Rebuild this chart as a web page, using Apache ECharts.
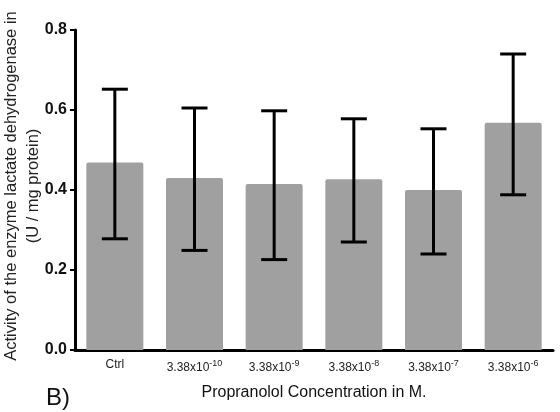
<!DOCTYPE html>
<html>
<head>
<meta charset="utf-8">
<script src="https://cdn.jsdelivr.net/npm/echarts@6/dist/echarts.min.js"></script>
<style>
  html, body { margin: 0; padding: 0; background: #fff; }
  #chart { width: 560px; height: 412px; }
</style>
</head>
<body>
<div id="chart"></div>
<script>
var categories = ['Ctrl', '-10', '-9', '-8', '-7', '-6'];
var means = [0.469, 0.430, 0.415, 0.427, 0.400, 0.568];
var errUpper = [0.652, 0.605, 0.598, 0.578, 0.553, 0.740];
var errLower = [0.278, 0.249, 0.226, 0.270, 0.240, 0.388];

var dom = document.getElementById('chart');
var myChart = echarts.init(dom);
var font = 'Liberation Sans, Arial, sans-serif';

var errData = [];
for (var i = 0; i < categories.length; i++) {
    errData.push([i, errLower[i], errUpper[i]]);
}

var option = {
    animation: false,
    textStyle: { fontFamily: font },
    grid: { left: 75, right: 7, top: 30, bottom: 62, containLabel: false, outerBoundsMode: 'none' },
    xAxis: {
        type: 'category',
        data: categories,
        axisLine: { lineStyle: { color: '#000', width: 3 } },
        axisTick: { alignWithLabel: true, length: 5, lineStyle: { color: '#000', width: 2 } },
        axisLabel: {
            interval: 0,
            hideOverlap: false,
            margin: 9,
            color: '#222',
            formatter: function (v) {
                if (v === 'Ctrl') return '{a|Ctrl}';
                return '{a|3.38x10}{s|' + v + '}';
            },
            rich: {
                a: { fontSize: 12, fontFamily: font, color: '#222' },
                s: { fontSize: 9, fontFamily: font, color: '#222', padding: [0, 0, 9, 0] }
            }
        },
        name: 'Propranolol Concentration in M.',
        nameLocation: 'middle',
        nameGap: 35,
        nameMoveOverlap: false,
        nameTextStyle: { fontSize: 16, color: '#111', fontFamily: font }
    },
    yAxis: {
        type: 'value',
        min: 0,
        max: 0.8,
        interval: 0.2,
        splitLine: { show: false },
        axisLine: { show: true, lineStyle: { color: '#000', width: 3 } },
        axisTick: { show: true, length: 5, lineStyle: { color: '#000', width: 2 } },
        axisLabel: {
            margin: 8,
            fontSize: 16,
            fontWeight: 'bold',
            color: '#111',
            formatter: function (v) { return v.toFixed(1); }
        },
        name: 'Activity of the enzyme lactate dehydrogenase in\n(U / mg protein)',
        nameLocation: 'middle',
        nameRotate: 90,
        nameGap: 31,
        nameMoveOverlap: false,
        nameTextStyle: { fontSize: 16.5, color: '#222', fontFamily: font, lineHeight: 22, padding: [0, 0, 0, 8] }
    },
    series: [
        {
            type: 'bar',
            data: means,
            barWidth: 57,
            itemStyle: { color: '#a0a0a0', borderRadius: [2, 2, 0, 0] },
            z: 2
        },
        {
            type: 'custom',
            data: errData,
            z: 3,
            renderItem: function (params, api) {
                var x = api.value(0);
                var lo = api.coord([x, api.value(1)]);
                var hi = api.coord([x, api.value(2)]);
                var half = 13;
                var style = { stroke: '#000', lineWidth: 3 };
                return {
                    type: 'group',
                    children: [
                        { type: 'line', shape: { x1: hi[0], y1: hi[1], x2: lo[0], y2: lo[1] }, style: style },
                        { type: 'line', shape: { x1: hi[0] - half, y1: hi[1], x2: hi[0] + half, y2: hi[1] }, style: style },
                        { type: 'line', shape: { x1: lo[0] - half, y1: lo[1], x2: lo[0] + half, y2: lo[1] }, style: style }
                    ]
                };
            }
        }
    ],
    graphic: [
        {
            type: 'text',
            left: 46,
            top: 386,
            style: { text: 'B)', fontSize: 24, fill: '#111', fontFamily: font }
        }
    ]
};
myChart.setOption(option);
</script>
</body>
</html>
